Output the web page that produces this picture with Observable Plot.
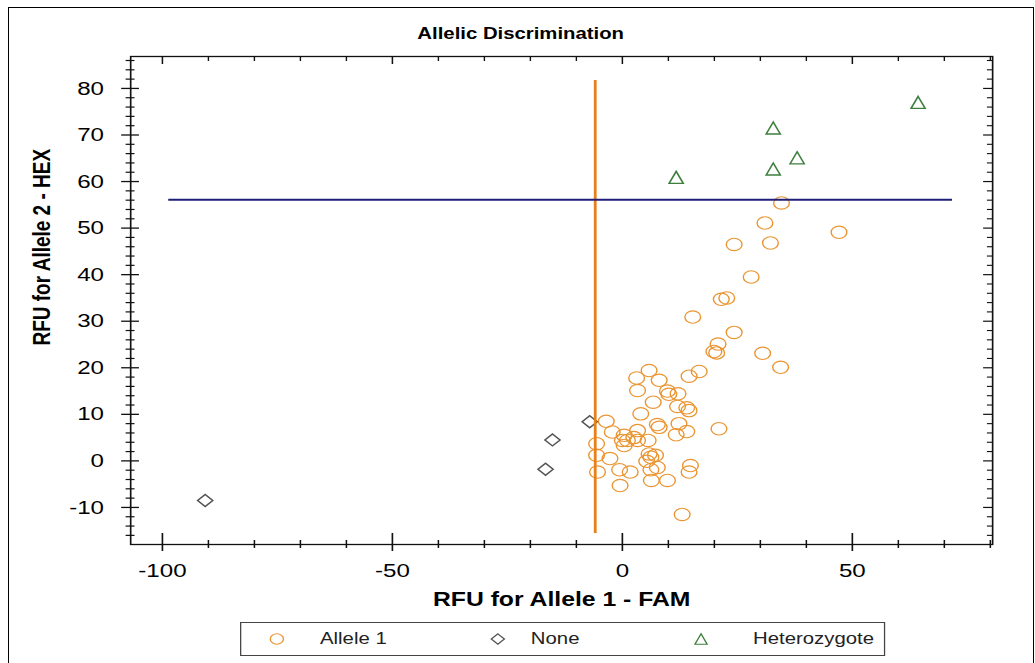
<!DOCTYPE html>
<html><head><meta charset="utf-8">
<script src="https://cdn.jsdelivr.net/npm/d3@7"></script>
<script src="https://cdn.jsdelivr.net/npm/@observablehq/plot@0.6"></script>
<style>
html,body{margin:0;padding:0;background:#fff;overflow:hidden;width:1035px;height:663px}
#frameBox{position:absolute;left:8px;top:7px;width:1026px;height:700px;border:1px solid #000;box-sizing:border-box}
#page{position:absolute;left:0;top:0;width:815px;height:663px;transform:scaleX(1.27);transform-origin:0 0;font-family:"Liberation Sans",Arial,sans-serif;color:#000}
#title{position:absolute;top:24px;left:410px;transform:translateX(-50%);font-weight:bold;font-size:16px;white-space:nowrap;line-height:20px}
#chart{position:absolute;left:0;top:46px}
#legend{position:absolute;left:189px;top:622px;width:508px;height:34px;border:1px solid #444;box-sizing:border-box;background:#fff}
.sym{position:absolute;top:9px}
.lab{position:absolute;top:0;line-height:32px;font-size:16px;color:#222;white-space:nowrap}
</style></head>
<body>
<div id="frameBox"></div>
<div id="page">
  <div id="title"></div>
  <div id="chart"></div>
  <div id="legend"></div>
</div>
<script>
// ---- data ----
const chartTitle = "Allelic Discrimination";
const xTitle = "RFU for Allele 1 - FAM";
const yTitle = "RFU for Allele 2 - HEX";
const legendLabels = ["Allele 1", "None", "Heterozygote"];

const allele1 = [
  [34.6,55.4],[31.0,51.1],[47.1,49.1],[24.3,46.5],[32.2,46.8],[28.0,39.5],[21.5,34.7],[22.7,35.0],
  [15.3,30.9],[24.3,27.6],[20.8,25.1],[19.9,23.5],[20.5,23.2],[30.5,23.1],[34.4,20.1],[16.7,19.2],[14.5,18.2],
  [5.8,19.4],[3.1,17.8],[8.0,17.3],[3.3,15.1],[9.8,15.0],[10.1,14.3],[12.1,14.4],[6.7,12.6],[12.0,11.7],
  [14.0,11.4],[14.5,10.8],[4.0,10.1],[-3.5,8.5],[7.6,7.8],[8.0,7.2],[12.3,8.0],[14.0,6.3],[11.7,5.6],
  [21.0,6.9],[-2.2,6.2],[0.4,5.5],[3.3,6.5],[0.0,4.4],[1.1,4.4],[3.3,4.4],[5.6,4.4],[2.5,5.0],[-5.6,3.7],[0.4,3.3],
  [-5.6,1.2],[-2.7,0.5],[5.8,1.5],[6.2,0.8],[5.3,-0.1],[7.2,1.2],[7.6,-1.4],[-0.6,-1.9],[1.7,-2.4],[-5.4,-2.4],
  [6.2,-1.9],[14.8,-1.0],[14.5,-2.4],[6.3,-4.2],[9.8,-4.2],[-0.5,-5.3],[13.0,-11.5]
];
const noCall = [[-90.7,-8.5],[-16.7,-1.8],[-15.2,4.5],[-7.1,8.4]];
const hetero = [[64.3,77.0],[32.8,71.5],[38.0,65.1],[32.8,62.7],[11.7,60.9]];

const xThreshold = [{x: -5.9, y1: -15.6, y2: 81.7}];
const yThreshold = [{y: 56.1, x1: -98.6, x2: 71.8}];

const xDomain = [-106.9, 80.5];
const yDomain = [-17.96, 86.86];
const xMajor = [-100, -50, 0, 50];
const yMajor = [-10, 0, 10, 20, 30, 40, 50, 60, 70, 80];
const xMinor = d3.range(-100, 81, 10).filter(v => !xMajor.includes(v));
const yMinor = d3.range(-16, 87, 2).filter(v => v % 10 !== 0);

// ---- style ----
const cOrange = "#ea9532", cLine = "#e8801a", cNavy = "#1f1f7a", cGreen = "#3e7f3e", cGray = "#555";
const W = 815, H = 574, mL = 102.4, mR = 33.9, mT = 10, mB = 76;
const FW = W - mL - mR, FH = H - mT - mB;
const hyphen = d => String(d);

const diamondSym = {draw(ctx, size) { const k = Math.sqrt(size / Math.PI);
  ctx.moveTo(0, -k); ctx.lineTo(k, 0); ctx.lineTo(0, k); ctx.lineTo(-k, 0); ctx.closePath(); }};
const triSym = {draw(ctx, size) { const k = Math.sqrt(size / Math.PI);
  ctx.moveTo(0, -k); ctx.lineTo(k * 0.93, k); ctx.lineTo(-k * 0.93, k); ctx.closePath(); }};

const ax = "#111";
const chart = Plot.plot({
  width: W, height: H, marginLeft: mL, marginRight: mR, marginTop: mT, marginBottom: mB,
  x: {domain: xDomain}, y: {domain: yDomain},
  style: {fontFamily: "Liberation Sans, Arial, sans-serif", fontSize: "19px", color: "#000", background: "transparent", overflow: "visible"},
  marks: [
    Plot.frame({stroke: ax, strokeWidth: 1.3}),
    // bottom ticks (crossing)
    Plot.ruleX(xMinor, {insetTop: FH - 4, insetBottom: -4, stroke: ax, strokeWidth: 1.2}),
    Plot.ruleX(xMajor, {insetTop: FH - 11, insetBottom: -7, stroke: ax, strokeWidth: 1.3}),
    // top ticks (inward)
    Plot.ruleX(xMinor, {insetBottom: FH - 5, stroke: ax, strokeWidth: 1.1}),
    Plot.ruleX(xMajor, {insetBottom: FH - 8, stroke: ax, strokeWidth: 1.2}),
    // left ticks (crossing)
    Plot.ruleY(yMinor, {insetLeft: -3.5, insetRight: FW - 3.5, stroke: ax, strokeWidth: 1.2}),
    Plot.ruleY(yMajor, {insetLeft: -7, insetRight: FW - 7, stroke: ax, strokeWidth: 1.3}),
    // right ticks (inward)
    Plot.ruleY(yMinor, {insetLeft: FW - 4, stroke: ax, strokeWidth: 1.1}),
    Plot.ruleY(yMajor, {insetLeft: FW - 7, stroke: ax, strokeWidth: 1.2}),
    Plot.axisX({ticks: xMajor, tickFormat: hyphen, tickSize: 0, tickPadding: 19.5, anchor: "bottom", label: null, fontSize: 19}),
    Plot.axisY({ticks: yMajor, tickFormat: hyphen, tickSize: 0, tickPadding: 21, anchor: "left", label: null, fontSize: 19}),
    Plot.text([xTitle], {frameAnchor: "bottom", dy: 61, fontWeight: "bold", fontSize: 19.5, fill: "#000"}),
    Plot.text([yTitle], {frameAnchor: "left", dx: -69.3, dy: 45, rotate: -90, fontWeight: "bold", fontSize: 19, fill: "#000"}),
    Plot.dot(allele1, {x: d => d[0], y: d => d[1], r: 6.2, stroke: cOrange, strokeWidth: 1.1, fill: "none"}),
    Plot.dot(noCall, {x: d => d[0], y: d => d[1], r: 6, symbol: diamondSym, stroke: cGray, strokeWidth: 1.3, fill: "none"}),
    Plot.dot(hetero, {x: d => d[0], y: d => d[1], r: 6, symbol: triSym, stroke: cGreen, strokeWidth: 1.3, fill: "none"}),
    Plot.ruleX(xThreshold, {x: "x", y1: "y1", y2: "y2", stroke: cLine, strokeWidth: 2.2}),
    Plot.ruleY(yThreshold, {y: "y", x1: "x1", x2: "x2", stroke: cNavy, strokeWidth: 2})
  ]
});
document.getElementById("chart").appendChild(chart);
document.getElementById("title").textContent = chartTitle;

// ---- legend ----
const legend = d3.select("#legend");
const items = [
  {label: legendLabels[0], sx: 27.6, tx: 62, color: cOrange, kind: "circle"},
  {label: legendLabels[1], sx: 202, tx: 228, color: cGray, kind: "diamond"},
  {label: legendLabels[2], sx: 362, tx: 403, color: cGreen, kind: "triangle"}
];
for (const it of items) {
  const svg = legend.append("svg").attr("class", "sym").attr("width", 16).attr("height", 14)
    .style("left", (it.sx - 8) + "px");
  const g = svg.append("g").attr("transform", "translate(8,7)");
  if (it.kind === "circle") g.append("circle").attr("r", 5.2);
  else if (it.kind === "diamond") g.append("path").attr("d", "M0,-5.2L5.2,0L0,5.2L-5.2,0Z");
  else g.append("path").attr("d", "M0,-5.2L4.8,5.2L-4.8,5.2Z");
  g.selectAll("*").attr("fill", "none").attr("stroke", it.color).attr("stroke-width", 1.1);
  legend.append("div").attr("class", "lab").style("left", it.tx + "px").text(it.label);
}
</script>
</body></html>
